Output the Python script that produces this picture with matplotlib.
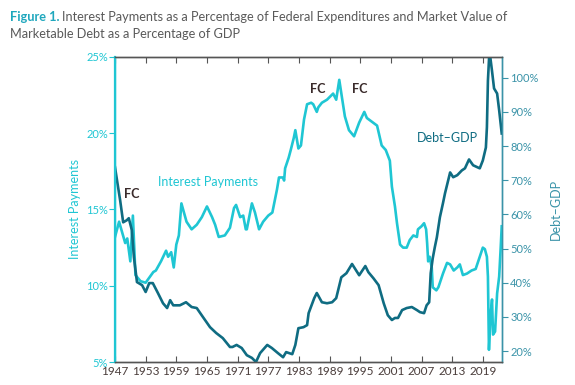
import matplotlib
matplotlib.use("Agg")
import matplotlib.pyplot as plt
from matplotlib.ticker import FuncFormatter

plt.rcParams["font.family"] = ["Lato", "DejaVu Sans"]

CYAN = "#1fc6d3"
TEAL = "#0f6c82"
RTEAL = "#3a93a8"
GRAY = "#5a5a5a"

# interest payments as % of federal expenditures (left axis)
ip_year = [1947.0, 1947.8, 1949.0, 1949.4, 1950.0, 1950.5, 1951.0, 1952.0, 1953.0,
           1954.5, 1955.0, 1956.0, 1957.0, 1957.4, 1958.0, 1958.5, 1959.0, 1959.5,
           1960.0, 1961.0, 1962.0, 1963.0, 1964.0, 1965.0, 1966.0, 1966.6, 1967.3,
           1968.5, 1969.5, 1970.3, 1970.7, 1971.5, 1972.1, 1972.6, 1972.8, 1973.8,
           1974.4, 1975.2, 1976.0, 1977.0, 1977.8, 1978.7, 1979.1, 1979.9, 1980.1,
           1980.3, 1981.0, 1981.4, 1982.0, 1982.3, 1982.9, 1983.4, 1984.0, 1984.6,
           1985.4, 1985.8, 1986.5, 1986.8, 1987.5, 1988.5, 1989.1, 1989.7, 1990.3,
           1990.9, 1991.4, 1992.0, 1992.8, 1993.8, 1994.8, 1995.8, 1996.3, 1997.5,
           1998.3, 1999.2, 2000.0, 2000.8, 2001.2, 2001.8, 2002.2, 2002.8, 2003.4,
           2004.1, 2004.7, 2005.4, 2006.1, 2006.3, 2007.0, 2007.5, 2007.9, 2008.1,
           2008.3, 2008.6, 2009.0, 2009.2, 2009.9, 2010.3, 2011.2, 2012.0, 2012.6,
           2013.3, 2014.0, 2014.5, 2015.1, 2015.9, 2016.8, 2017.6, 2018.2, 2019.0,
           2019.4, 2019.8, 2020.0, 2020.2, 2020.5, 2020.8, 2021.0, 2021.4, 2021.8,
           2022.2, 2022.5, 2022.7]
ip_val = [13.2, 14.2, 12.8, 13.1, 11.6, 14.6, 10.7, 10.3, 10.2,
          10.9, 11.0, 11.6, 12.3, 11.9, 12.2, 11.2, 12.7, 13.3,
          15.4, 14.2, 13.7, 14.0, 14.5, 15.2, 14.5, 14.0, 13.2,
          13.3, 13.8, 15.1, 15.3, 14.5, 14.6, 13.7, 13.7, 15.4,
          14.8, 13.7, 14.2, 14.6, 14.8, 16.3, 17.1, 17.1, 16.9,
          17.7, 18.4, 18.9, 19.7, 20.2, 19.0, 19.2, 20.9, 21.9,
          22.0, 21.9, 21.4, 21.7, 22.0, 22.2, 22.4, 22.6, 22.2,
          23.5, 22.4, 21.1, 20.2, 19.8, 20.7, 21.4, 21.0, 20.7,
          20.5, 19.2, 18.9, 18.2, 16.5, 15.2, 14.1, 12.7, 12.5,
          12.5, 13.0, 13.3, 13.2, 13.7, 13.9, 14.1, 13.7, 12.8,
          11.6, 11.9, 11.2, 9.9, 9.7, 9.9, 10.8, 11.5, 11.4,
          11.0, 11.2, 11.4, 10.7, 10.8, 11.0, 11.1, 11.7, 12.5,
          12.4, 11.9, 10.6, 5.8, 8.0, 9.1, 6.8, 7.0, 9.5,
          10.6, 12.5, 13.9]

# marketable debt as % of GDP (right axis)
dg_year = [1947.0, 1948.0, 1948.6, 1949.3, 1949.7, 1950.3, 1950.7, 1951.3, 1952.3,
           1953.0, 1953.7, 1954.4, 1955.4, 1956.4, 1957.2, 1957.8, 1958.4, 1959.7,
           1960.9, 1962.0, 1963.0, 1964.2, 1965.6, 1966.8, 1968.1, 1969.5, 1970.0,
           1970.8, 1971.8, 1972.8, 1973.8, 1974.6, 1975.4, 1976.8, 1977.7, 1978.9,
           1979.9, 1980.5, 1981.7, 1982.3, 1982.9, 1983.9, 1984.6, 1984.9, 1986.0,
           1986.5, 1987.5, 1988.5, 1989.5, 1990.3, 1991.3, 1992.3, 1993.4, 1994.8,
           1996.0, 1996.6, 1997.6, 1998.6, 1999.6, 2000.4, 2001.2, 2001.8, 2002.4,
           2003.2, 2004.1, 2005.1, 2006.1, 2006.7, 2007.5, 2008.0, 2008.5, 2008.8,
           2009.2, 2009.6, 2010.0, 2010.6, 2011.2, 2011.6, 2012.6, 2013.2, 2014.0,
           2014.9, 2015.5, 2016.3, 2017.1, 2018.4, 2019.0, 2019.6, 2019.8, 2020.0,
           2020.3, 2020.8, 2021.2, 2021.8, 2022.2, 2022.7]
dg_val = [73.8, 64.2, 57.7, 58.3, 58.9, 55.4, 47.5, 40.2, 39.3,
          37.3, 39.9, 39.9, 37.0, 34.0, 32.6, 34.9, 33.4, 33.4,
          34.3, 32.9, 32.6, 30.0, 27.0, 25.3, 23.8, 21.2, 21.2,
          21.8, 20.9, 18.8, 18.0, 16.8, 19.4, 21.8, 20.9, 19.4,
          18.2, 19.7, 19.1, 21.8, 26.7, 27.0, 27.6, 31.1, 35.5,
          37.0, 34.3, 34.0, 34.3, 35.5, 41.6, 42.8, 45.5, 42.2,
          44.9, 43.1, 41.3, 39.3, 34.0, 30.5, 29.1, 29.7, 29.7,
          32.0, 32.6, 32.9, 32.0, 31.4, 31.1, 33.4, 34.3, 42.8,
          47.2, 50.4, 53.3, 59.2, 63.3, 66.2, 72.3, 70.9, 71.5,
          72.9, 73.5, 76.1, 74.4, 73.5, 75.8, 79.6, 85.5, 99.2,
          108.0, 102.0, 96.9, 95.4, 90.5, 83.7]

year_ticks = list(range(1947, 2020, 6))
left_ticks = [5, 10, 15, 20, 25]
right_ticks = [20, 30, 40, 50, 60, 70, 80, 90, 100]

fig = plt.figure(figsize=(5.75, 3.85), dpi=100)
ax = fig.add_axes([0.2, 0.0597, 0.673, 0.7923])
ax2 = ax.twinx()

ax.plot(ip_year, ip_val, color=CYAN, lw=1.9, zorder=3)
ax2.plot(dg_year, dg_val, color=TEAL, lw=1.9, zorder=2)

ax.set_xlim(1947, 2022.75)
ax.set_ylim(5, 25)
ax2.set_ylim(16.8, 106.1)

ax.set_xticks(year_ticks)
ax.tick_params(axis="x", direction="in", top=True, length=4, color="#555555",
               labelsize=8.5, labelcolor="#4a3d3b", pad=3)
ax.set_yticks(left_ticks)
ax.yaxis.set_major_formatter(FuncFormatter(lambda v, p: f"{v:.0f}%"))
ax.tick_params(axis="y", direction="out", length=4, color=CYAN,
               labelsize=8, labelcolor=CYAN, pad=1)
ax2.set_yticks(right_ticks)
ax2.yaxis.set_major_formatter(FuncFormatter(lambda v, p: f"{v:.0f}%"))
ax2.tick_params(axis="y", direction="out", length=4, color=RTEAL,
                labelsize=8, labelcolor=RTEAL, pad=2)

for a in (ax, ax2):
    a.spines["top"].set_color("#555555")
    a.spines["bottom"].set_color("#555555")
    a.spines["left"].set_color(CYAN)
    a.spines["right"].set_color(RTEAL)
    for s in a.spines.values():
        s.set_linewidth(1.0)
ax.spines["left"].set_linewidth(1.6)

ax.set_ylabel("Interest Payments", color=CYAN, fontsize=9, labelpad=4)
ax2.set_ylabel("Debt\u2013GDP", color=RTEAL, fontsize=9, labelpad=8)

ax.text(1955.5, 16.8, "Interest Payments", color=CYAN, fontsize=9, ha="left", va="center")
ax.text(1948.7, 16.0, "FC", color="#3a2b2b", fontsize=9, fontweight="bold", ha="left", va="center")
ax.text(1985.1, 22.9, "FC", color="#3a2b2b", fontsize=9, fontweight="bold", ha="left", va="center")
ax.text(1993.3, 22.9, "FC", color="#3a2b2b", fontsize=9, fontweight="bold", ha="left", va="center")
ax2.text(2006.0, 82.5, "Debt\u2013GDP", color=TEAL, fontsize=9, ha="left", va="center")

t1 = fig.text(10 / 575, 1 - 17 / 385, "Figure 1.", color="#1fa7bd", fontsize=9.2,
              fontweight="bold", va="center", ha="left")
fig.canvas.draw()
bb = t1.get_window_extent()
fig.text((bb.x1 + 3) / 575, 1 - 17 / 385,
         "Interest Payments as a Percentage of Federal Expenditures and Market Value of",
         color=GRAY, fontsize=9.2, va="center", ha="left")
fig.text(10 / 575, 1 - 34 / 385, "Marketable Debt as a Percentage of GDP",
         color=GRAY, fontsize=9.2, va="center", ha="left")

fig.savefig("out.png", dpi=100)
